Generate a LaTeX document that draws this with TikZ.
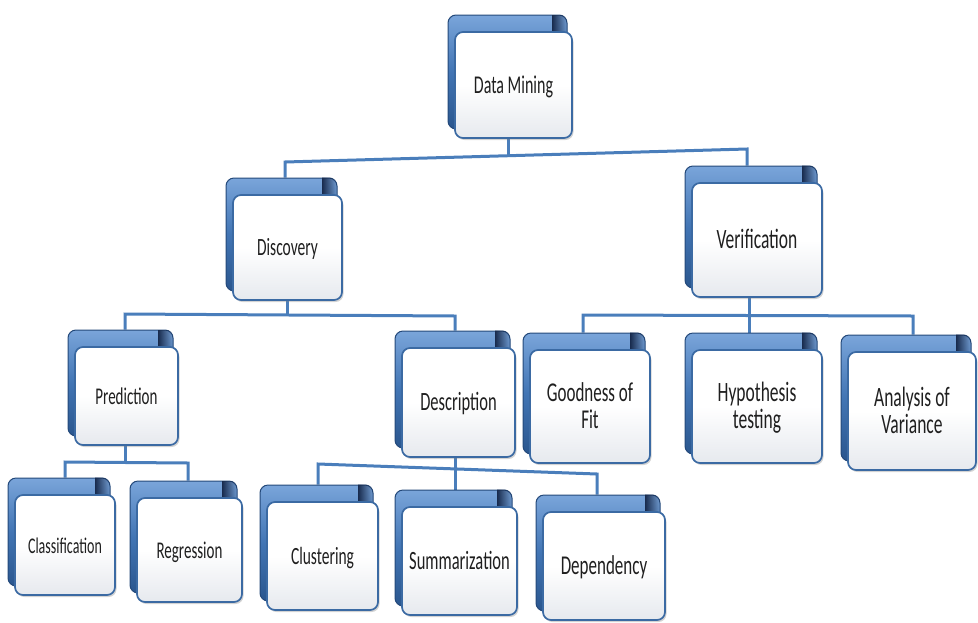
\documentclass[tikz,border=0pt]{standalone}
\usepackage{fontspec}
\setmainfont{Carlito}
\usetikzlibrary{shadows,fadings}
\pgfdeclarelayer{background}
\pgfsetlayers{background,main}

\definecolor{cardedge}{HTML}{3B6AA3}
\definecolor{backtop}{HTML}{7AA5DA}
\definecolor{backmid}{HTML}{4275B4}
\definecolor{backbot}{HTML}{2A568E}
\definecolor{backline}{HTML}{24497A}
\definecolor{backdark}{HTML}{16284A}
\definecolor{linkblue}{HTML}{4A7EBB}
\definecolor{labelgray}{HTML}{1F1F1F}
\definecolor{cardfoot}{HTML}{E6E9EE}

\tikzset{
  backcard/.style={rectangle, rounded corners=8pt, draw=backline, line width=1pt,
    top color=backtop, bottom color=backbot, middle color=backmid, inner sep=0pt},
  frontcard/.style={rectangle, rounded corners=8pt, draw=cardedge, line width=1.7pt,
    top color=white, bottom color=cardfoot, middle color=white,
    align=center, text=labelgray, inner sep=2pt,
    drop shadow={opacity=0.35, shadow xshift=1.5pt, shadow yshift=-2pt}},
  link/.style={draw=linkblue, line width=3pt},
}

% #1 name, #2/#3 centre of the front card, #4/#5 its size, #6 font size, #7 label
\newcommand\stackbox[7]{%
  \node[backcard, minimum width={#4pt+2pt}, minimum height={#5pt+8pt}]
    (#1-back) at ({#2-6},{#3-13}) {};
  \begin{scope}
    \clip[rounded corners=8pt] (#1-back.north west) rectangle (#1-back.south east);
    \fill[backdark, path fading=east]
      ([xshift=-16pt]#1-back.north east) rectangle (#1-back.south east);
  \end{scope}
  \node[frontcard, minimum width={#4pt}, minimum height={#5pt},
    font=\fontsize{#6}{16.5}\selectfont] (#1) at (#2,#3)
    {\raisebox{-3pt}[\height][\depth]{\scalebox{1}[1.6]{\begin{tabular}{@{}c@{}}#7\end{tabular}}}};
}

\begin{document}
\begin{tikzpicture}[x=1pt,y=-1pt]
\useasboundingbox (0,0) rectangle (978,622);

% cards
\stackbox{dm}{513.5}{85}{117}{106}{16}{Data Mining}
\stackbox{disc}{287.5}{247.5}{109}{105}{15.5}{Discovery}
\stackbox{ver}{757}{240}{130}{114}{17.5}{Verification}
\stackbox{pred}{126.5}{396}{103}{98}{15}{Prediction}
\stackbox{desc}{458.5}{402.5}{113}{109}{16.5}{Description}
\stackbox{good}{590}{406.5}{120}{113}{17}{Goodness of\\Fit}
\stackbox{hyp}{757}{406.5}{130}{113}{17.5}{Hypothesis\\testing}
\stackbox{ana}{912}{411}{128}{118}{17.5}{Analysis of\\Variance}
\stackbox{clas}{65}{545}{100}{100}{14}{Classification}
\stackbox{reg}{189.5}{550}{105}{104}{15}{Regression}
\stackbox{clus}{322.5}{556}{111}{108}{15.5}{Clustering}
\stackbox{summ}{459.5}{561}{115}{108}{16.5}{Summarization}
\stackbox{dep}{604}{566}{122}{108}{17}{Dependency}

% connectors, behind the cards
\begin{pgfonlayer}{background}
  \coordinate (b1L) at (285,162);  \coordinate (b1M) at (508,155.7); \coordinate (b1R) at (747,149);
  \coordinate (b2L) at (125,314);  \coordinate (b2M) at (287,315);   \coordinate (b2R) at (455,316);
  \coordinate (b3L) at (583,315);  \coordinate (b3M) at (749,315.5); \coordinate (b3R) at (913,316);
  \coordinate (b4L) at (65,462);   \coordinate (b4M) at (125,462.5); \coordinate (b4R) at (188,463);
  \coordinate (b5L) at (318,464);  \coordinate (b5M) at (455,468.9); \coordinate (b5R) at (597,474);

  \draw[link] (dm.south -| b1M) -- (b1M);
  \draw[link] (disc-back.north -| b1L) -- (b1L) -- (b1R) -- (ver-back.north -| b1R);

  \draw[link] (disc.south -| b2M) -- (b2M);
  \draw[link] (pred-back.north -| b2L) -- (b2L) -- (b2R) -- (desc-back.north -| b2R);

  \draw[link] (ver.south -| b3M) -- (hyp-back.north -| b3M);
  \draw[link] (good-back.north -| b3L) -- (b3L) -- (b3R) -- (ana-back.north -| b3R);

  \draw[link] (pred.south -| b4M) -- (b4M);
  \draw[link] (clas-back.north -| b4L) -- (b4L) -- (b4R) -- (reg-back.north -| b4R);

  \draw[link] (desc.south -| b5M) -- (summ-back.north -| b5M);
  \draw[link] (clus-back.north -| b5L) -- (b5L) -- (b5R) -- (dep-back.north -| b5R);
\end{pgfonlayer}
\end{tikzpicture}
\end{document}
